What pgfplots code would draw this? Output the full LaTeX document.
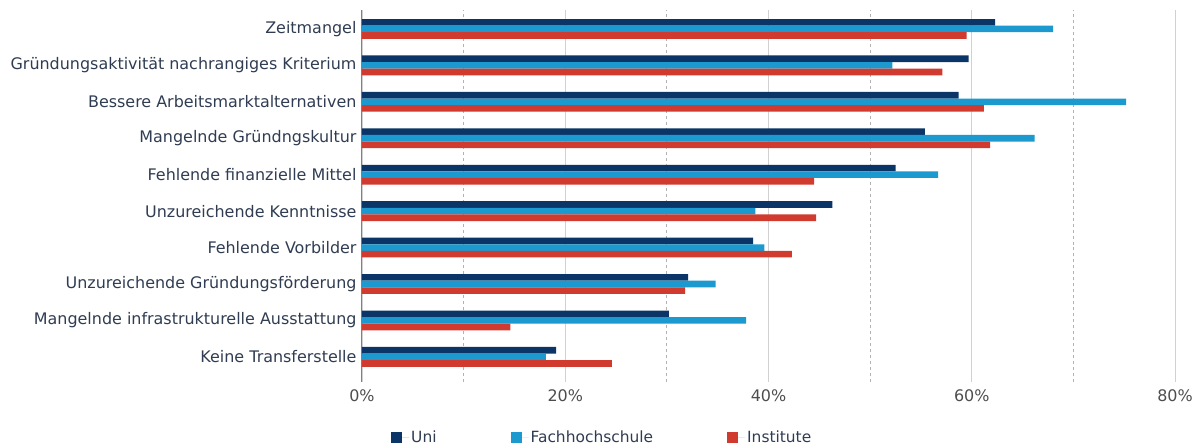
\documentclass[border=0pt]{standalone}
\usepackage{fontspec}
\setmainfont{DejaVu Sans}
\usepackage{pgfplots}
\pgfplotsset{compat=1.18}
\definecolor{uni}{HTML}{0B3566}
\definecolor{fh}{HTML}{1C9AD0}
\definecolor{inst}{HTML}{D03A2F}
\definecolor{lbl}{HTML}{2F3C52}
\definecolor{tck}{HTML}{4D4D4D}

\begin{document}
\begin{tikzpicture}
\begin{axis}[
  at={(0,0)}, anchor=south west,
  scale only axis, width=813bp, height=372bp,
  xbar, bar width=6.6bp,
  xmin=0, xmax=80, ymin=-0.69, ymax=9.52,
  xtick={0,20,40,60,80}, minor xtick={10,30,50,70},
  xticklabels={0\%,20\%,40\%,60\%,80\%},
  ytick={0,...,9},
  yticklabels={Keine Transferstelle, Mangelnde infrastrukturelle Ausstattung, Unzureichende Gründungsförderung, Fehlende Vorbilder, Unzureichende Kenntnisse, Fehlende finanzielle Mittel, Mangelnde Gründngskultur, Bessere Arbeitsmarktalternativen, Gründungsaktivität nachrangiges Kriterium, Zeitmangel},
  major tick length=0pt, minor tick length=0pt,
  xmajorgrids, xminorgrids,
  major grid style={draw=black!18, line width=0.8bp},
  minor grid style={draw=black!30, dashed, line width=0.8bp},
  axis lines*=left,
  x axis line style={draw=none},
  y axis line style={draw=black!50, line width=1bp},
  tick label style={font=\fontsize{16}{19}\selectfont},
  xticklabel style={text=tck, yshift=-4bp},
  yticklabel style={text=lbl, xshift=-2bp},
  legend columns=3,
  legend style={draw=none, fill=none, inner sep=0pt,
    at={(axis description cs:0.0357,-0.148)}, anchor=west,
    font=\fontsize{15.5}{18}\selectfont, text=lbl,
    /tikz/every even column/.append style={column sep=72bp}},
  legend image code/.code={\fill[#1] (0bp,-5.5bp) rectangle (11bp,5.5bp);
    \path (0bp,0bp) -- (18bp,0bp);},
]
\addplot[fill=uni, draw=none, bar shift=6.6bp] coordinates {
  (62.3,9) (59.7,8) (58.7,7) (55.4,6) (52.5,5)
  (46.3,4) (38.5,3) (32.1,2) (30.2,1) (19.1,0)
};
\addplot[fill=fh, draw=none, bar shift=0bp] coordinates {
  (68.0,9) (52.2,8) (75.2,7) (66.2,6) (56.7,5)
  (38.7,4) (39.6,3) (34.8,2) (37.8,1) (18.1,0)
};
\addplot[fill=inst, draw=none, bar shift=-6.6bp] coordinates {
  (59.5,9) (57.1,8) (61.2,7) (61.8,6) (44.5,5)
  (44.7,4) (42.3,3) (31.8,2) (14.6,1) (24.6,0)
};
\legend{Uni, Fachhochschule, Institute}
\end{axis}
\path (-362bp,-66bp) rectangle (834bp,382bp);
\end{tikzpicture}
\end{document}
